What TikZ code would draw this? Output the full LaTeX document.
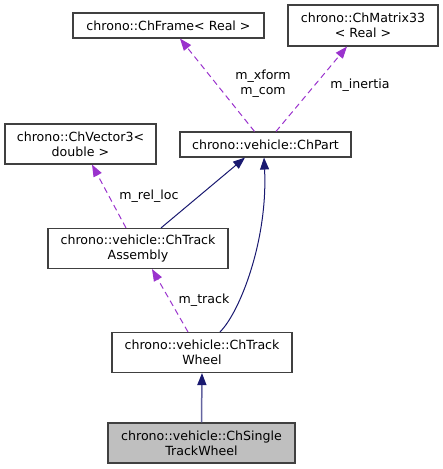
\documentclass[tikz,border=0pt]{standalone}
\usepackage{fontspec}
\setmainfont{DejaVu Sans}
\usetikzlibrary{arrows.meta}

\definecolor{boxline}{HTML}{404040}
\definecolor{usecol}{HTML}{9A32CD}
\definecolor{basecol}{HTML}{191970}
\definecolor{faintbase}{HTML}{6464A0}

\begin{document}
\begin{tikzpicture}[x=1pt, y=-1pt,
  cls/.style={draw=boxline, line width=1.1pt, inner sep=0pt, align=center,
    font=\fontsize{12.6}{15}\selectfont},
  member/.style={usecol, dashed, dash pattern=on 6pt off 4pt, line width=1pt,
    -{Triangle[length=12pt, width=9pt]}},
  inherit/.style={basecol, line width=1pt, -{Triangle[length=12pt, width=9pt]}},
  tag/.style={font=\fontsize{12.6}{15}\selectfont, align=center}]

\useasboundingbox (0,0) rectangle (443,469);

\node[cls, minimum width=191pt, minimum height=25pt] (frame) at (168.5,25.5) {chrono::ChFrame< Real >};
\node[cls, minimum width=150pt, minimum height=41pt] (matrix) at (363,25.5) {chrono::ChMatrix33\\< Real >};
\node[cls, minimum width=151pt, minimum height=40pt] (vector) at (80.5,144) {chrono::ChVector3<\\double >};
\node[cls, minimum width=171pt, minimum height=25pt] (part) at (265.5,144.5) {chrono::vehicle::ChPart};
\node[cls, minimum width=180pt, minimum height=40pt] (assembly) at (138,248.5) {chrono::vehicle::ChTrack\\Assembly};
\node[cls, minimum width=180pt, minimum height=40pt] (wheel) at (202,352.5) {chrono::vehicle::ChTrack\\Wheel};
\node[cls, minimum width=187pt, minimum height=40pt, fill=black!25] (single) at (201.5,443) {chrono::vehicle::ChSingle\\TrackWheel};

% members
\draw[member] ([xshift=-11pt]part.north) -- ([xshift=11.5pt]frame.south);
\draw[member] ([xshift=10.5pt]part.north) -- ([xshift=-16pt]matrix.south);
\draw[member] ([xshift=-12pt]assembly.north) -- ([xshift=11.5pt]vector.south);
\draw[member] ([xshift=-14pt]wheel.north) -- ([xshift=14pt]assembly.south);

\node[tag] (xform) at (263,84) {m\_xform\\m\_com};
\node[tag] (inertia) at (360,85) {m\_inertia};
\node[tag] (relloc) at (149,196) {m\_rel\_loc};
\node[tag] (track) at (204,300) {m\_track};

% bases
\draw[inherit] ([xshift=23pt]assembly.north) -- ([xshift=-20.5pt]part.south);
\draw[inherit] ([xshift=18pt]wheel.north) .. controls (240,312) and (268,240) .. ([xshift=-1.5pt]part.south);
\draw[inherit, draw=faintbase, line width=1.5pt, -{Triangle[length=12pt, width=9pt, color=basecol]}] (single.north) -- (wheel.south);

\end{tikzpicture}
\end{document}
